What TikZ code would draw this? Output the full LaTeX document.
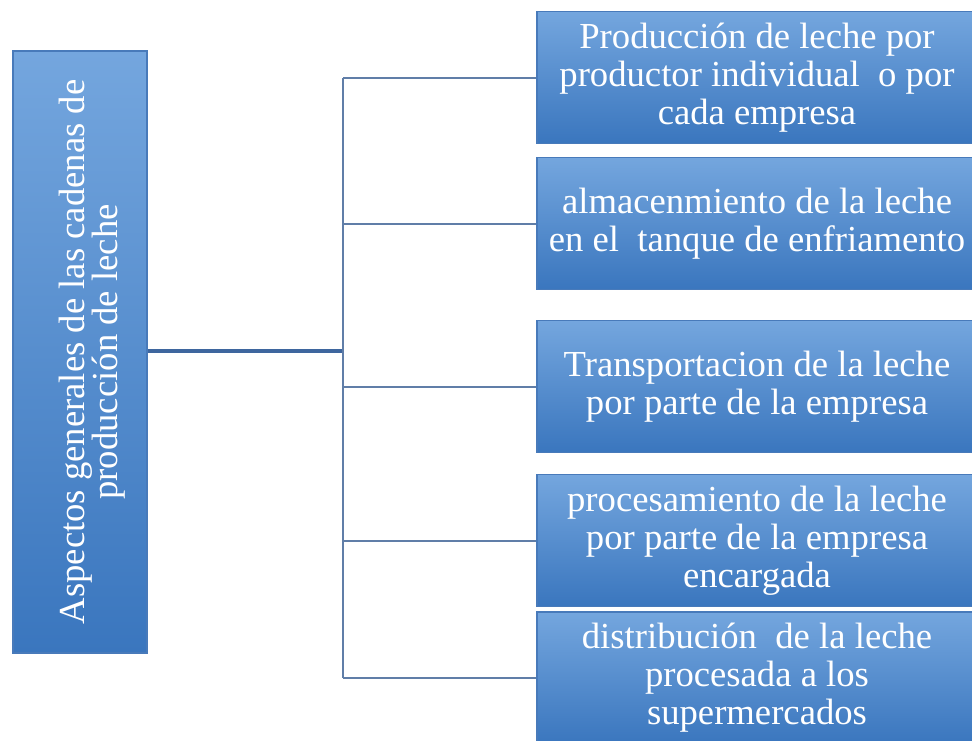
\documentclass[tikz,border=0pt]{standalone}
\usepackage{fontspec}
\setmainfont{Liberation Serif}
\usepackage{graphicx}
\usepackage{tikz}

\definecolor{boxtop}{RGB}{116,166,222}
\definecolor{boxbot}{RGB}{58,118,190}
\definecolor{boxline}{RGB}{72,122,186}
\definecolor{linkcol}{RGB}{96,126,168}
\definecolor{maincol}{RGB}{62,102,158}

\tikzset{
  etapa/.style={rectangle, draw=boxline, line width=0.8pt, top color=boxtop, bottom color=boxbot,
    text=white, align=center, inner sep=2pt, minimum width=330pt, minimum height=99pt,
    font=\fontsize{27.5}{28.5}\selectfont},
  raiz/.style={etapa, minimum width=100.5pt, minimum height=451.5pt},
  rama/.style={draw=linkcol, line width=1.5pt}
}

\begin{document}
\begin{tikzpicture}[x=0.75pt,y=0.75pt,yscale=-1,xscale=1]
\useasboundingbox (0,0) rectangle (972,740);

%Shape: Root box
\node[raiz] (aspectos) at (80,352) {\hspace*{20pt}\rotatebox{90}{\begin{tabular}{@{}c@{}}Aspectos generales de las cadenas de\\[-4pt] producción de leche\end{tabular}}};

%Shape: Stage boxes
\node[etapa] (prod) at (757,77.5) {Producción de leche por\\ productor individual\ \ o por\\ cada empresa};
\node[etapa] (alm) at (757,223.5) {almacenmiento de la leche\\ en el\ \ tanque de enfriamento};
\node[etapa] (trans) at (757,386.5) {Transportacion de la leche\\ por parte de la empresa};
\node[etapa] (proc) at (757,540.5) {procesamiento de la leche\\ por parte de la empresa\\ encargada};
\node[etapa] (dist) at (757,678) {distribución\ \ de la leche\\ procesada a los\\ supermercados};

%Straight Lines
\coordinate (eje) at (343,351);
\draw[rama, draw=maincol, line width=2.5pt] (aspectos.east |- eje) -- (eje);
\draw[rama] (eje |- prod.west) -- (eje |- dist.west);
\foreach \n in {prod,alm,trans,proc,dist}
  \draw[rama] (eje |- \n.west) -- (\n.west);

\end{tikzpicture}
\end{document}
